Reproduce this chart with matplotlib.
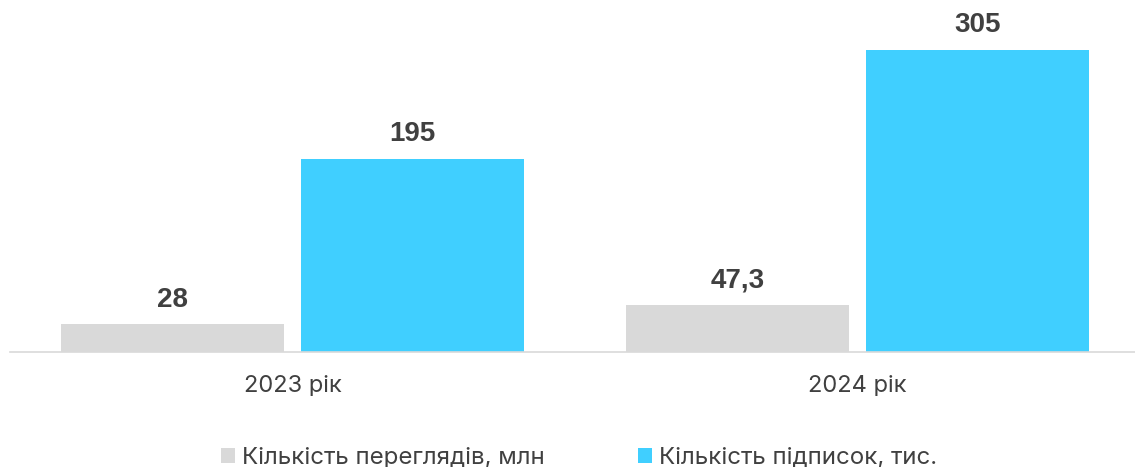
import matplotlib.pyplot as plt
import numpy as np

# Data
years = ['2023 рік', '2024 рік']
views_mln = [28, 47.3]
subs_k = [195, 305]
views_labels = ['28', '47,3']
subs_labels = ['195', '305']
series_names = ['Кількість переглядів, млн', 'Кількість підписок, тис.']

grey = '#D9D9D9'
cyan = '#40CFFF'
text_col = '#404040'

plt.rcParams['font.family'] = ['Inter', 'DejaVu Sans']

W, H = 1135, 467
fig = plt.figure(figsize=(W / 100, H / 100), dpi=100)
ax = fig.add_axes([10 / W, 115 / H, 1130 / W, 337 / H])

x = np.arange(len(years))
width = 0.395
off = 0.2125

b1 = ax.bar(x - off, views_mln, width, color=grey, label=series_names[0])
b2 = ax.bar(x + off, subs_k, width, color=cyan, label=series_names[1])

# value labels above the bars
for bars, labs in ((b1, views_labels), (b2, subs_labels)):
    for rect, lab in zip(bars, labs):
        ax.annotate(lab, (rect.get_x() + rect.get_width() / 2, rect.get_height()),
                    xytext=(0, 12.5), textcoords='offset points',
                    ha='center', va='baseline', fontsize=20, fontweight='bold',
                    color=text_col, family=['Liberation Sans', 'DejaVu Sans'])

ax.set_xlim(-0.5, 1.5)
ax.set_ylim(0, 340)
ax.set_xticks(x)
ax.set_xticklabels(years, fontsize=17, color=text_col)
ax.tick_params(axis='x', length=0, pad=16.5)
ax.set_yticks([])
for side in ('top', 'right', 'left'):
    ax.spines[side].set_visible(False)
ax.spines['bottom'].set_color(grey)
ax.spines['bottom'].set_linewidth(1.2)

fig.legend(handles=[b1, b2], loc='center', bbox_to_anchor=(579 / W, 1 - 458 / H),
           ncol=2, frameon=False, fontsize=17.3, labelcolor=text_col,
           handlelength=0.58, handleheight=0.58, handletextpad=0.3,
           columnspacing=3.85)

fig.savefig('out.png', dpi=100)
